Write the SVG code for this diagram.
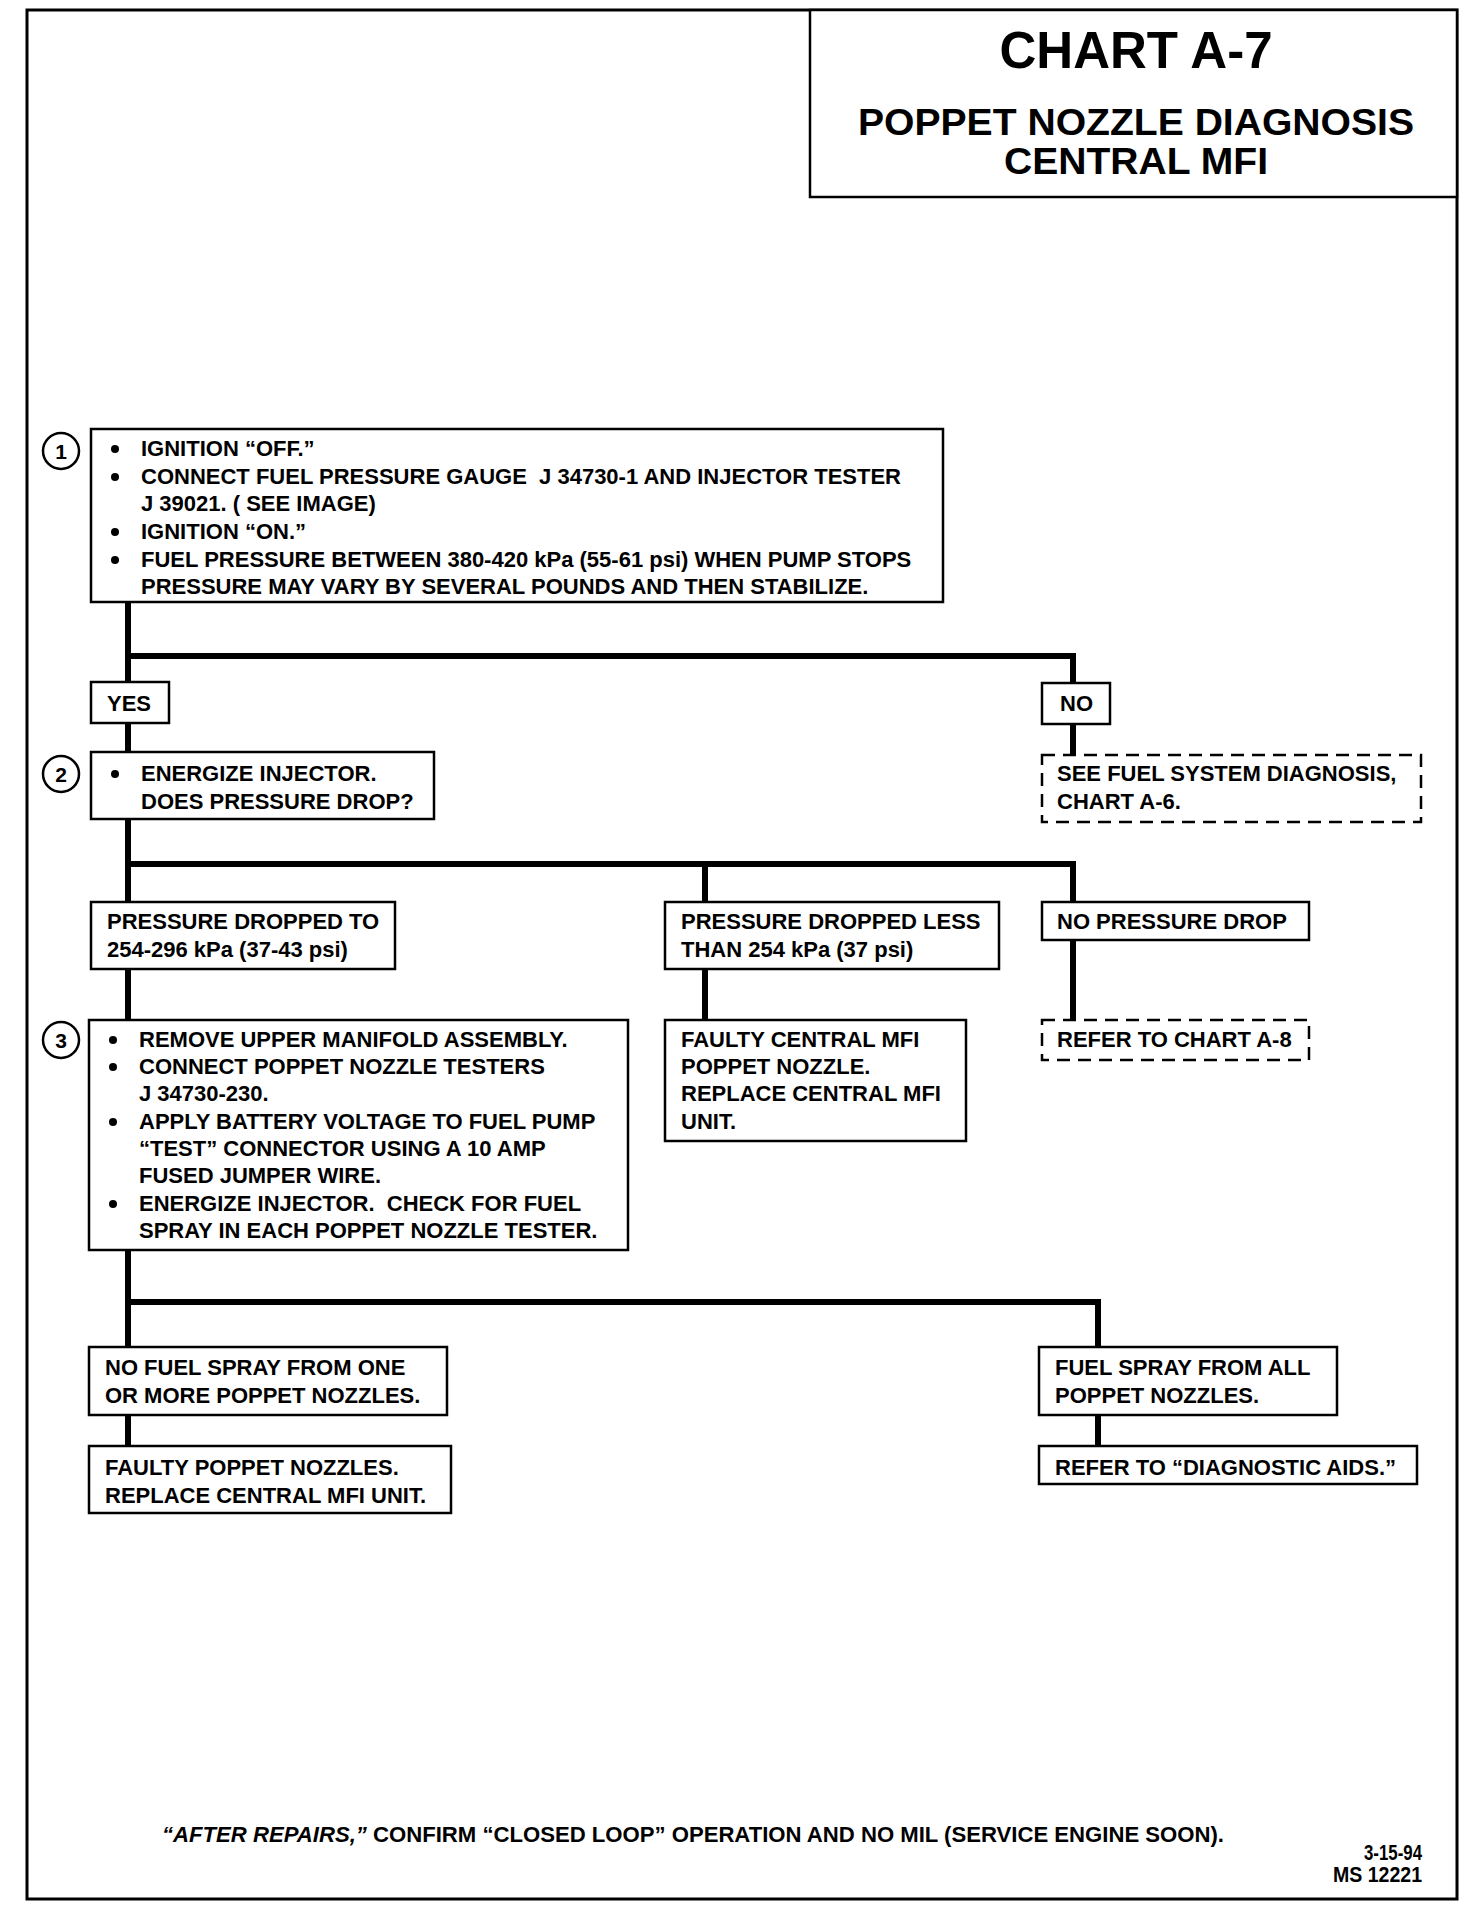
<svg xmlns="http://www.w3.org/2000/svg" width="1472" height="1906" viewBox="0 0 1472 1906">
<style>
.frame{fill:none;stroke:#000;stroke-width:3}
.box{fill:#fff;stroke:#000;stroke-width:2.5}
.dash{stroke-dasharray:13 8}
.conn{fill:none;stroke:#000;stroke-width:6;stroke-linejoin:miter;stroke-linecap:butt}
.t{font-family:"Liberation Sans",Arial,Helvetica,sans-serif;font-weight:bold;font-size:22px;fill:#000;white-space:pre}
.title{font-family:"Liberation Sans",Arial,Helvetica,sans-serif;font-weight:bold;fill:#000;text-anchor:middle}
.num{font-family:"Liberation Sans",Arial,Helvetica,sans-serif;font-weight:bold;font-size:21px;fill:#000;text-anchor:middle}
.circ{fill:#fff;stroke:#000;stroke-width:2.5}
.bul{fill:#000}
</style>
<rect width="1472" height="1906" fill="#fff"/>
<rect class="frame" x="27" y="10" width="1430" height="1889"/>

<g id="title">
<rect class="box" x="810" y="10" width="647" height="187"/>
<text class="title" x="1136" y="68" font-size="52" textLength="273" lengthAdjust="spacingAndGlyphs">CHART A-7</text>
<text class="title" x="1136" y="135" font-size="36" textLength="556" lengthAdjust="spacingAndGlyphs">POPPET NOZZLE DIAGNOSIS</text>
<text class="title" x="1136" y="174" font-size="36" textLength="264" lengthAdjust="spacingAndGlyphs">CENTRAL MFI</text>
</g>

<g id="connectors">
<path class="conn" d="M128 602 V682"/>
<path class="conn" d="M128 656 H1073 V683"/>
<path class="conn" d="M128 723 V752"/>
<path class="conn" d="M1073 724 V755"/>
<path class="conn" d="M128 819 V902"/>
<path class="conn" d="M128 864 H1073 V902"/>
<path class="conn" d="M705 864 V902"/>
<path class="conn" d="M128 969 V1020"/>
<path class="conn" d="M705 969 V1020"/>
<path class="conn" d="M1073 940 V1020"/>
<path class="conn" d="M128 1250 V1347"/>
<path class="conn" d="M128 1302 H1098 V1347"/>
<path class="conn" d="M128 1415 V1446"/>
<path class="conn" d="M1098 1415 V1446"/>
</g>

<g id="step1">
<circle class="circ" cx="61" cy="451" r="18"/>
<text class="num" x="61" y="459">1</text>
<rect class="box" x="91" y="429" width="852" height="173"/>
<circle class="bul" cx="115" cy="449" r="4"/>
<text class="t" x="141" y="456">IGNITION “OFF.”</text>
<circle class="bul" cx="115" cy="477" r="4"/>
<text class="t" x="141" y="484" xml:space="preserve">CONNECT FUEL PRESSURE GAUGE  J 34730-1 AND INJECTOR TESTER</text>
<text class="t" x="141" y="511">J 39021. ( SEE IMAGE)</text>
<circle class="bul" cx="115" cy="532" r="4"/>
<text class="t" x="141" y="539">IGNITION “ON.”</text>
<circle class="bul" cx="115" cy="560" r="4"/>
<text class="t" x="141" y="567">FUEL PRESSURE BETWEEN 380-420 kPa (55-61 psi) WHEN PUMP STOPS</text>
<text class="t" x="141" y="594">PRESSURE MAY VARY BY SEVERAL POUNDS AND THEN STABILIZE.</text>
</g>

<g id="yes">
<rect class="box" x="91" y="682" width="78" height="41"/>
<text class="t" x="107" y="711">YES</text>
</g>

<g id="no">
<rect class="box" x="1042" y="683" width="68" height="41"/>
<text class="t" x="1060" y="711">NO</text>
</g>

<g id="step2">
<circle class="circ" cx="61" cy="774" r="18"/>
<text class="num" x="61" y="782">2</text>
<rect class="box" x="91" y="752" width="343" height="67"/>
<circle class="bul" cx="115" cy="774" r="4"/>
<text class="t" x="141" y="781">ENERGIZE INJECTOR.</text>
<text class="t" x="141" y="809">DOES PRESSURE DROP?</text>
</g>

<g id="see-fuel-system">
<rect class="box dash" x="1042" y="755" width="379" height="67"/>
<text class="t" x="1057" y="781">SEE FUEL SYSTEM DIAGNOSIS,</text>
<text class="t" x="1057" y="809">CHART A-6.</text>
</g>

<g id="pressure-dropped-to">
<rect class="box" x="91" y="902" width="304" height="67"/>
<text class="t" x="107" y="929">PRESSURE DROPPED TO</text>
<text class="t" x="107" y="957">254-296 kPa (37-43 psi)</text>
</g>

<g id="pressure-dropped-less">
<rect class="box" x="665" y="902" width="334" height="67"/>
<text class="t" x="681" y="929">PRESSURE DROPPED LESS</text>
<text class="t" x="681" y="957">THAN 254 kPa (37 psi)</text>
</g>

<g id="no-pressure-drop">
<rect class="box" x="1042" y="902" width="267" height="38"/>
<text class="t" x="1057" y="929">NO PRESSURE DROP</text>
</g>

<g id="step3">
<circle class="circ" cx="61" cy="1040" r="18"/>
<text class="num" x="61" y="1048">3</text>
<rect class="box" x="89" y="1020" width="539" height="230"/>
<circle class="bul" cx="113" cy="1040" r="4"/>
<text class="t" x="139" y="1047">REMOVE UPPER MANIFOLD ASSEMBLY.</text>
<circle class="bul" cx="113" cy="1067" r="4"/>
<text class="t" x="139" y="1074">CONNECT POPPET NOZZLE TESTERS</text>
<text class="t" x="139" y="1101">J 34730-230.</text>
<circle class="bul" cx="113" cy="1122" r="4"/>
<text class="t" x="139" y="1129">APPLY BATTERY VOLTAGE TO FUEL PUMP</text>
<text class="t" x="139" y="1156">“TEST” CONNECTOR USING A 10 AMP</text>
<text class="t" x="139" y="1183">FUSED JUMPER WIRE.</text>
<circle class="bul" cx="113" cy="1204" r="4"/>
<text class="t" x="139" y="1211" xml:space="preserve">ENERGIZE INJECTOR.  CHECK FOR FUEL</text>
<text class="t" x="139" y="1238">SPRAY IN EACH POPPET NOZZLE TESTER.</text>
</g>

<g id="faulty-central-mfi">
<rect class="box" x="665" y="1020" width="301" height="121"/>
<text class="t" x="681" y="1047">FAULTY CENTRAL MFI</text>
<text class="t" x="681" y="1074">POPPET NOZZLE.</text>
<text class="t" x="681" y="1101">REPLACE CENTRAL MFI</text>
<text class="t" x="681" y="1129">UNIT.</text>
</g>

<g id="refer-a8">
<rect class="box dash" x="1042" y="1020" width="267" height="40"/>
<text class="t" x="1057" y="1047">REFER TO CHART A-8</text>
</g>

<g id="no-fuel-spray">
<rect class="box" x="89" y="1347" width="358" height="68"/>
<text class="t" x="105" y="1375">NO FUEL SPRAY FROM ONE</text>
<text class="t" x="105" y="1403">OR MORE POPPET NOZZLES.</text>
</g>

<g id="fuel-spray-all">
<rect class="box" x="1039" y="1347" width="298" height="68"/>
<text class="t" x="1055" y="1375">FUEL SPRAY FROM ALL</text>
<text class="t" x="1055" y="1403">POPPET NOZZLES.</text>
</g>

<g id="faulty-poppet">
<rect class="box" x="89" y="1446" width="362" height="67"/>
<text class="t" x="105" y="1475">FAULTY POPPET NOZZLES.</text>
<text class="t" x="105" y="1503">REPLACE CENTRAL MFI UNIT.</text>
</g>

<g id="diagnostic-aids">
<rect class="box" x="1039" y="1446" width="378" height="38"/>
<text class="t" x="1055" y="1475">REFER TO “DIAGNOSTIC AIDS.”</text>
</g>

<g id="footer">
<text class="t" x="162" y="1842" textLength="1062" lengthAdjust="spacingAndGlyphs"><tspan font-style="italic">“AFTER REPAIRS,”</tspan> CONFIRM “CLOSED LOOP” OPERATION AND NO MIL (SERVICE ENGINE SOON).</text>
<text class="t" x="1422" y="1860" text-anchor="end" font-size="16" textLength="58" lengthAdjust="spacingAndGlyphs">3-15-94</text>
<text class="t" x="1422" y="1882" text-anchor="end" font-size="16" textLength="89" lengthAdjust="spacingAndGlyphs">MS 12221</text>
</g>
</svg>
